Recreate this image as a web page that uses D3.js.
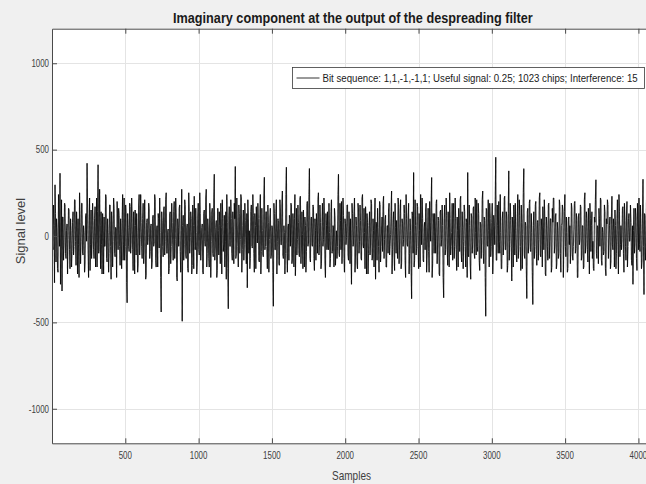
<!DOCTYPE html>
<html>
<head>
<meta charset="utf-8">
<script src="https://cdn.jsdelivr.net/npm/d3@7"></script>
<style>
  html, body { margin: 0; padding: 0; background: #f0f0f0; }
  svg { display: block; }
  text { font-family: "Liberation Sans", Arial, sans-serif; }
</style>
</head>
<body>
<svg id="chart" width="646" height="484"></svg>
<script>
// ---- Data (read/estimated from the reference picture) ----
const titleText = "Imaginary component at the output of the despreading filter";
const xLabel = "Samples";
const yLabel = "Signal level";
const legendText = "Bit sequence: 1,1,-1,-1,1; Useful signal: 0.25; 1023 chips; Interference: 15";
const xTicks = [500, 1000, 1500, 2000, 2500, 3000, 3500, 4000];
const yTicks = [-1000, -500, 0, 500, 1000];
const xDomain = [0, 4096];
const yDomain = [-1200, 1200];
// decimated trace of the imaginary component: even samples
const signal = [
  120, -80, 60, 296, -150, 40, -210, 90, 363, -60, -319, 110, -40, 180, -130, 70, -20, 150, -190, 30,
  -90, 140, -60, 210, -170, 50, 100, -240, 80, -30, 190, -110, 20, -160, 130, 421, -70, 60, -200, 150,
  -40, 90, -130, 170, -20, -180, 412, -90, 60, 140, -220, 30, 110, -60, 230, -150, 20, -100, 180, -250,
  70, -30, 160, -120, 40, 200, -80, 120, -170, 10, 90, -140, 220, -60, 130, -386, 50, -90, 170, -40,
  110, -200, 60, 150, -110, 30, -160, 240, -20, 80, -130, 190, -70, 40, -230, 100, -10, 160, -90, 70,
  -150, 120, -40, 210, -180, 60, 130, -70, 20, -440, 90, -120, 170, -30, 250, -100, 40, -190, 140, -60,
  80, -140, 200, -20, 110, -260, 50, 160, -90, 30, -493, 120, -50, 180, -130, 70, -210, 140, -10, 100,
  -170, 60, 230, -80, 20, -150, 190, -110, 130, -40, 70, -220, 150, -60, 270, -100, 40, -180, 110, -30,
  160, -120, 358, -70, 90, -200, 30, 140, -160, 50, 210, -90, 120, -30, -250, 80, -421, 170, -60, 100,
  -140, 40, 190, 402, -110, 60, -180, 130, -20, 220, -80, 150, -50, 90, -160, -299, 110, 30, -130, 180,
  -70, 120, -210, 60, 170, -40, 100, -150, 240, -90, 30, -120, 340, -60, 140, -190, 80, -20, 160, -110,
  50, -406, 130, -80, 210, -30, 90, -170, 150, -50, 260, -130, 20, -100, 398, -210, 70, 120, -60, 180,
  -140, 40, 100, -230, 160, -20, 80, -120, 230, -70, 10, 150, -180, 60, -90, 200, -40, 391, -150, 110,
  -60, 170, -200, 30, 130, -100, 250, -50, 80, -160, 190, -20, 110, -240, 60, 140, -80, 20, -130, 210,
  -90, 50, 160, -170, 30, -60, 358, -120, 90, 200, -40, 120, -210, 70, -10, 180, -140, 40, 100, -280,
  130, -50, 220, -110, 60, -190, 150, -30, 90, -140, 240, -70, 20, 170, -220, 80, -100, 140, -40, 190,
  -130, 30, 110, -250, 70, 160, -60, 200, -150, 40, -90, 230, -20, 120, -180, 60, 150, -110, 10, 260,
  -80, 140, -200, 50, 90, -130, 180, -40, 210, -160, 70, -20, 130, -240, 100, -60, 190, -100, 30, -363,
  120, 367, -140, 60, -70, 170, -190, 30, 240, -50, 100, -150, 80, 150, -210, 40, -90, 200, -30, 338,
  -160, 70, 130, -100, 210, -40, 90, -230, 150, -20, 60, -357, 180, -80, 120, -170, 40, 250, -110, 20,
  -140, 190, -60, 100, -200, 30, 160, -90, 230, -150, 50, -30, 140, -180, 80, 367, -120, 60, -250, 110,
  -40, 170, -130, 20, 210, -90, 130, -200, 70, -10, 260, -160, 90, -464, 150, -60, 30, 190, -120, 80,
  -220, 120, -50, 456, -140, 60, 200, -100, 20, -190, 140, -40, 230, -80, 110, -170, 377, -30, 90, -260,
  50, 180, -110, 30, -150, 240, -70, 120, -200, 80, 10, 390, -130, 60, -362, 160, -40, 210, -90, 20,
  -396, 140, -60, 200, -170, 90, -20, 250, -120, 40, 170, -80, 110, -230, 60, -140, 190, -30, 100, -180,
  80, 220, -50, 130, -160, 30, -100, 180, -210, 70, 150, -40, 240, -120, 20, -190, 110, 60, -80, 160,
  -140, 40, 200, -70, 90, -240, 130, -20, 170, -110, 60, -180, 250, -50, 100, -150, 30, 190, -90, 140,
  -30, -200, 80, 325, -130, 50, 160, -60, 210, -170, 20, -90, 140, -230, 70, 180, -40, 110, -150, 230,
  -80, 30, 150, -190, 100, -50, 240, -120, 60, -20, 170, -210, 90, -140, 200, -60, 130, -30, 80, -170,
  -280, 160, -40, 110, -200, 70, 220, -90, 30, -150, 329, -338, 120, -60, 190, -110, 40, 150, -70, 90
];
// odd samples lying between the even ones (estimated from the dense band of the picture)
const signalOdd = [
  -50, 180, -270, 130, 100, -190, 240, -60, -280, 210, 110, -140, 190, -100, 30, -220, 160, -80, 100, -180,
  80, -110, 210, -30, 140, -220, -50, 250, -160, 190, -100, 60, -210, 110, -30, 180, -240, 220, -50, -130,
  190, -80, 100, -180, 220, 140, -100, 270, -190, -50, 130, -220, -60, 240, -130, 100, -210, 180, -60, 140,
  -180, 220, -100, 50, -240, 110, 160, -60, 100, -190, 240, -50, -140, 180, -270, 130, -60, 190, -100, 220,
  -80, 140, -220, 60, 130, -210, 180, -110, 240, -60, 100, -160, 210, -250, 80, -50, 190, -130, 60, -190,
  110, -60, 240, -140, 50, -180, 100, 220, -240, 140, -60, 160, -110, 210, -100, 30, -220, 130, -160, 190,
  -50, 140, -130, 220, -240, 100, -60, 180, -210, 270, 60, -140, 210, -110, 50, -190, 250, -100, 140, -220,
  180, -190, 60, 160, -220, 110, -80, 250, -140, 50, -210, 130, -30, 220, -180, 100, -130, 190, -240, 140,
  -100, 220, -140, 50, -240, 160, -110, 60, 190, -220, 100, -50, -180, 140, 240, -190, 110, -60, 210, -100,
  140, -160, 100, -130, 220, -60, 180, -100, 240, -210, 60, -140, 190, -50, 130, 210, -100, -190, 140, -60,
  240, -100, 130, -190, 50, 190, -140, 100, -220, 160, -110, 220, -80, 140, -60, 180, -210, 110, -130, 60,
  -210, 190, -80, 140, -220, 100, -160, 210, -50, 180, -110, 60, -220, 240, -100, 50, -140, 100, 190, -160,
  130, -180, 240, -60, -110, 180, -100, 220, -160, 140, -190, 50, 110, -210, 190, -60, 240, -130, 100, -50,
  180, -130, 100, -140, 60, 210, -110, 180, -190, 80, -60, 220, -160, 130, -80, -50, 190, -180, 140, -100,
  60, -180, 110, -60, -130, 240, -100, 190, -80, -160, 220, -130, 100, -50, 180, -110, 140, -160, -100, 190,
  -60, 140, -210, 110, -160, 190, -100, 180, -130, 220, -50, 160, -190, 100, 130, -220, 60, -110, 210, -140,
  100, -180, 220, 80, -140, 50, -210, 180, -60, 110, 190, -130, 100, -180, 60, -100, 190, -60, 140, -220,
  80, -110, 190, -100, -50, 220, -160, 130, -190, 100, -60, 180, -140, 240, -50, 110, -220, 100, -190, 140,
  -100, -180, 210, -110, 190, -60, 130, -180, 100, 220, -140, 50, -80, 190, -110, 160, -210, 80, 180, -240,
  130, -100, 50, 190, -160, 110, -220, 140, -60, 180, -240, 100, -110, 220, -50, 140, -180, 100, -60, 190,
  100, -130, 220, -80, 110, -180, 60, 210, -100, 140, -190, 180, -60, 100, -240, -110, 180, -160, 130, -100,
  160, -100, 220, -110, -60, 190, -140, 80, -130, 210, -100, 110, -240, 160, -50, 210, -180, 100, -60, 190,
  -110, 60, 210, -140, 180, -100, -30, 240, -190, 100, -110, 220, -80, 140, -210, 130, -140, 190, -60, 110,
  -180, 100, 190, -100, 110, -130, 210, -60, 180, -190, 250, -110, 80, -180, 140, -100, 190, -80, 130, -210,
  60, -130, 180, -100, 80, -140, 220, -110, 100, -180, 50, 210, -220, 110, -60, 180, -130, 100, -210, 160,
  220, -100, 110, -190, 80, -130, 210, -100, 60, 180, -240, 140, -60, 110, -210, 100, -50, -160, 190, -110,
  -60, 190, -100, 130, -240, 110, -50, 180, -140, 60, -190, 210, -100, 140, -80, 160, -220, 100, 60, -130,
  -190, 110, 210, -100, 60, -160, 100, 220, -140, 50, -110, 180, -190, 100, 210, -130, 60, -190, 110, -50,
  100, -180, 60, -100, 210, -220, 140, -50, -80, 160, -100, 190, -60, 110, -180, 100, -30, 180, -140, 60,
  30, -100, 160, -130, 190, -80, -50, 180, -190, 110, -60, 130, -140, 210, -100, 130, -190, 60, 100, -240
];
// full series built from the two arrays, in sample order
const series = signal.flatMap((v, i) => [v, signalOdd[i]]);
const sampleStep = xDomain[1] / (series.length - 1);

// ---- Layout ----
const svg = d3.select("#chart");
const L = 52, R = 652.5, T = 28.7, B = 443.3;
const x = d3.scaleLinear().domain(xDomain).range([L, R]);
const y = d3.scaleLinear().domain(yDomain).range([B, T]);
const axisColor = "#4a4a4a";
const labelColor = "#404040";

svg.append("rect").attr("width", 646).attr("height", 484).attr("fill", "#f0f0f0");
svg.append("rect").attr("x", L).attr("y", T).attr("width", R - L).attr("height", B - T).attr("fill", "#fff");

// grid
const grid = svg.append("g").attr("stroke", "#e4e4e4").attr("stroke-width", 1);
grid.selectAll("line.gx").data(xTicks).join("line")
  .attr("x1", d => Math.round(x(d)) + 0.5).attr("x2", d => Math.round(x(d)) + 0.5)
  .attr("y1", T).attr("y2", B);
grid.selectAll("line.gy").data(yTicks).join("line")
  .attr("y1", d => Math.round(y(d)) + 0.5).attr("y2", d => Math.round(y(d)) + 0.5)
  .attr("x1", L).attr("x2", R);

svg.append("clipPath").attr("id", "clip").append("rect")
  .attr("x", L).attr("y", T).attr("width", R - L).attr("height", B - T);

// signal: drawn as semi-transparent segments so overlaps build a dark core
const pts = series.map((v, i) => [i * sampleStep, v]);
svg.append("g").attr("clip-path", "url(#clip)")
  .selectAll("line").data(d3.pairs(pts)).join("line")
  .attr("x1", d => x(d[0][0])).attr("y1", d => y(d[0][1]))
  .attr("x2", d => x(d[1][0])).attr("y2", d => y(d[1][1]))
  .attr("stroke", "#000").attr("stroke-opacity", 0.8).attr("stroke-width", 1.1)
  .attr("stroke-linecap", "butt");

// axes (MATLAB style: ticks inside)
const xAxisBottom = d3.axisBottom(x).tickValues(xTicks).tickSizeInner(-5).tickSizeOuter(0).tickFormat("");
const xAxisTop = d3.axisTop(x).tickValues(xTicks).tickSizeInner(-5).tickSizeOuter(0).tickFormat("");
const yAxisLeft = d3.axisLeft(y).tickValues(yTicks).tickSizeInner(-5).tickSizeOuter(0).tickFormat("");
function styleAxis(g) {
  g.select(".domain").attr("stroke", axisColor).attr("stroke-width", 1);
  g.selectAll(".tick line").attr("stroke", axisColor).attr("stroke-width", 1);
}
svg.append("g").attr("transform", `translate(0,${B})`).call(xAxisBottom).call(styleAxis);
svg.append("g").attr("transform", `translate(0,${T})`).call(xAxisTop).call(styleAxis);
svg.append("g").attr("transform", `translate(${L},0)`).call(yAxisLeft).call(styleAxis);

// tick labels (horizontally condensed like the reference)
svg.append("g").selectAll("text").data(xTicks).join("text")
  .attr("transform", d => `translate(${x(d)},${458.7}) scale(0.72,1)`)
  .attr("text-anchor", "middle").attr("font-size", 11).attr("fill", labelColor)
  .text(d => d);
svg.append("g").selectAll("text").data(yTicks).join("text")
  .attr("transform", d => `translate(${49},${y(d) + 3.8}) scale(0.72,1)`)
  .attr("text-anchor", "end").attr("font-size", 11).attr("fill", labelColor)
  .text(d => d);

// axis labels
svg.append("text")
  .attr("transform", `translate(${351.5},${479.5}) scale(0.8,1)`)
  .attr("text-anchor", "middle").attr("font-size", 12.5).attr("fill", labelColor)
  .text(xLabel);
svg.append("text")
  .attr("transform", `translate(${24.8},${231}) rotate(-90)`)
  .attr("text-anchor", "middle").attr("font-size", 13).attr("fill", labelColor)
  .text(yLabel);

// helper: horizontally condense a text so it spans the given width
function condensed(sel, x0, y0, width) {
  const w = sel.node().getComputedTextLength();
  sel.attr("transform", `translate(${x0},${y0}) scale(${width / w},1)`);
}

// title
const title = svg.append("text")
  .attr("font-size", 14.5).attr("font-weight", "bold").attr("fill", "#1a1a1a")
  .text(titleText);
condensed(title, 173, 22.6, 360);

// legend
const lg = svg.append("g");
lg.append("rect").attr("x", 292.5).attr("y", 67.5).attr("width", 352).attr("height", 21)
  .attr("fill", "#fff").attr("stroke", "#3a3a3a").attr("stroke-width", 0.8);
lg.append("line").attr("x1", 296.5).attr("x2", 319.5).attr("y1", 78).attr("y2", 78)
  .attr("stroke", "#000").attr("stroke-width", 0.8);
const lt = lg.append("text")
  .attr("font-size", 11).attr("fill", "#1a1a1a")
  .text(legendText);
condensed(lt, 322.5, 82, 315.5);
</script>
</body>
</html>
